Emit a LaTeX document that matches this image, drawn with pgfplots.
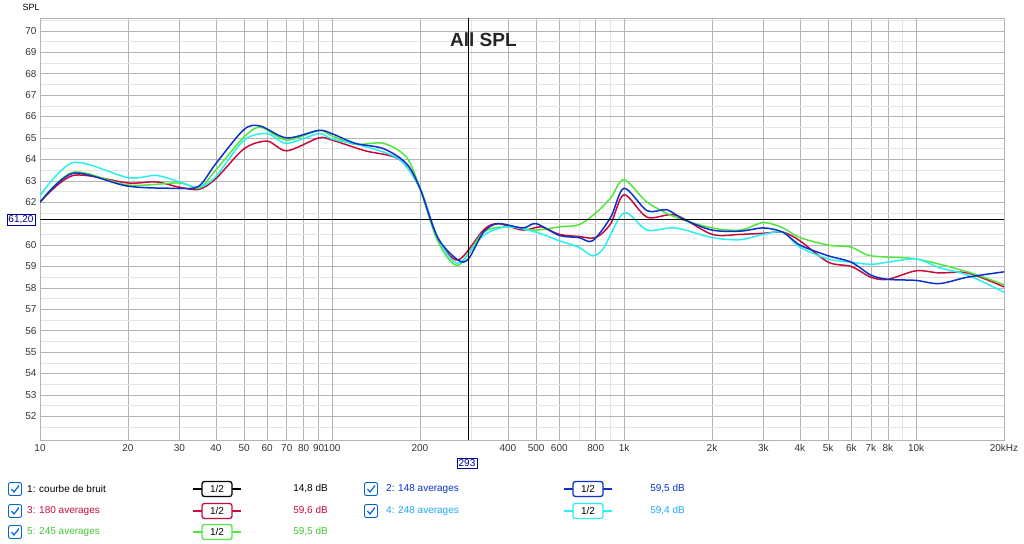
\documentclass[border=0pt]{standalone}
\usepackage{pgfplots}
\pgfplotsset{compat=1.18}
\usepackage{fontspec}
\setmainfont{Liberation Sans}
\definecolor{cblue}{RGB}{10,50,200}
\definecolor{cred}{RGB}{200,10,60}
\definecolor{cgreen}{RGB}{80,230,60}
\definecolor{ccyan}{RGB}{40,240,240}
\definecolor{lgrid}{RGB}{228,228,228}
\definecolor{mgrid}{RGB}{180,180,180}
\definecolor{chk}{RGB}{0,100,210}
\newcommand{\chk}[2]{\draw[chk,line width=0.9pt,rounded corners=2pt] (#1-6.5pt,#2-6.5pt) rectangle (#1+6.5pt,#2+6.5pt);
\draw[chk,line width=1.2pt] (#1-3.5pt,#2) -- (#1-1pt,#2-3pt) -- (#1+4pt,#2+3.5pt);}
\newcommand{\samp}[4]{\draw[#3,line width=#4] (#1-24pt,#2) -- (#1+24pt,#2);
\node[draw=#3,fill=white,line width=1.3pt,rounded corners=2.5pt,minimum width=30pt,minimum height=15pt,inner sep=0pt] at (#1,#2) {\fontsize{10}{11}\selectfont 1/2};}
\begin{document}
\begin{tikzpicture}[x=1pt,y=1pt]
\path (0,0) rectangle (1024,-543);
\begin{axis}[at={(40pt,-440pt)},anchor=south west,scale only axis,width=964pt,height=422pt,
 xmode=log,xmin=10,xmax=20000,ymin=50.9,ymax=70.6,
 axis line style={mgrid},
 xtick={10,20,30,40,50,60,70,80,90,100,200,400,500,600,800,1000,2000,3000,4000,5000,6000,7000,8000,10000,20000},
 xticklabels={10,20,30,40,50,60,70,80,90,100,200,400,500,600,800,1k,2k,3k,4k,5k,6k,7k,8k,10k,20kHz},
 minor xtick={300,700,900,9000},
 ytick={52,53,54,55,56,57,58,59,60,62,63,64,65,66,67,68,69,70},
 minor ytick={51.5,52.5,...,70.5,61},
 grid=both,
 major grid style={mgrid,line width=0.6pt},
 minor grid style={lgrid,line width=0.5pt},
 extra x ticks={10,100,1000,10000},extra x tick labels={},
 extra x tick style={grid style={gray!90!black,line width=0.8pt}},
 tick style={draw=none},
 ticklabel style={font=\fontsize{10}{11}\selectfont,text=black!80},
 xticklabel style={yshift=-1pt},
 /pgf/number format/assume math mode=true,
 log ticks with fixed point,
 clip=true,
 every axis plot/.style={smooth,line width=1.5pt,no marks,tension=0.5}]
\addplot[cred] coordinates {(10,62.0)(13,63.25)(20,62.9)(25,62.95)(30,62.7)(35,62.6)(40,63.1)(50,64.5)(60,64.85)(70,64.4)(90,65.0)(100,64.9)(130,64.4)(170,64.0)(200,62.65)(230,60.35)(270,59.3)(330,60.7)(370,61.0)(450,60.7)(520,60.85)(600,60.5)(700,60.4)(800,60.35)(900,61.0)(1000,62.35)(1200,61.3)(1500,61.4)(2000,60.5)(2500,60.5)(3000,60.55)(3500,60.6)(4000,60.2)(5000,59.2)(6000,59.0)(7000,58.5)(8000,58.4)(10000,58.8)(12000,58.7)(15000,58.7)(20000,58.05)};
\addplot[cgreen] coordinates {(10,62.0)(13,63.4)(20,62.8)(30,62.9)(35,62.65)(40,63.5)(50,65.05)(57,65.5)(70,64.9)(90,65.35)(100,65.1)(120,64.7)(150,64.75)(180,64.1)(200,62.65)(230,60.2)(270,59.05)(330,60.6)(400,60.85)(500,60.7)(600,60.85)(700,60.95)(800,61.5)(900,62.2)(1000,63.05)(1200,62.0)(1500,61.3)(2000,60.8)(2500,60.7)(3000,61.05)(3500,60.8)(4000,60.35)(5000,60.0)(6000,59.9)(7000,59.5)(10000,59.35)(15000,58.75)(20000,58.15)};
\addplot[ccyan] coordinates {(10,62.3)(13,63.85)(20,63.15)(25,63.25)(30,62.95)(35,62.7)(40,63.2)(50,64.9)(60,65.2)(70,64.75)(90,65.2)(100,64.95)(130,64.6)(170,64.0)(200,62.65)(230,60.35)(270,59.15)(330,60.45)(400,60.85)(500,60.6)(600,60.2)(700,59.9)(780,59.5)(850,59.85)(1000,61.5)(1200,60.7)(1500,60.8)(2000,60.35)(2500,60.25)(3000,60.5)(3500,60.6)(4000,59.9)(5000,59.35)(6000,59.2)(7000,59.1)(8000,59.2)(10000,59.35)(12000,58.95)(15000,58.6)(20000,57.8)};
\addplot[cblue] coordinates {(10,62.0)(13,63.35)(20,62.75)(30,62.65)(35,62.75)(40,63.8)(50,65.4)(57,65.55)(70,65.0)(90,65.35)(100,65.2)(120,64.75)(150,64.5)(180,63.8)(200,62.65)(230,60.35)(270,59.3)(293,59.35)(330,60.6)(370,61.0)(450,60.8)(500,61.0)(600,60.45)(700,60.35)(780,60.2)(900,61.3)(1000,62.65)(1200,61.6)(1400,61.65)(1600,61.2)(2000,60.7)(2500,60.65)(3000,60.8)(3500,60.6)(4000,60.0)(5000,59.5)(6000,59.2)(7000,58.6)(8000,58.4)(10000,58.35)(12000,58.2)(15000,58.5)(20000,58.75)};
\draw[black,line width=0.8pt] (axis cs:293,50.9) -- (axis cs:293,70.6);
\draw[black,line width=0.8pt] (axis cs:10,61.2) -- (axis cs:20000,61.2);
\node[font=\fontsize{19}{21}\selectfont\bfseries,text=black!85] at (axis cs:330,69.6) {All SPL};
\end{axis}
\node[font=\fontsize{9}{10}\selectfont,anchor=west] at (19,-7) {SPL};
\node[draw=blue!60!black,fill=white,font=\fontsize{10}{11}\selectfont,text=blue!50!black,inner sep=1.5pt] at (21,-220) {61,20};
\node[draw=blue!60!black,fill=white,font=\fontsize{10}{11}\selectfont,text=blue!50!black,inner sep=1.5pt] at (467,-463) {293};
\begin{scope}[every node/.style={font=\fontsize{10}{11}\selectfont,inner sep=0pt}]
\chk{15}{-489}\chk{15}{-511}\chk{15}{-532}\chk{371}{-489}\chk{371}{-511}
\node[anchor=west] at (27,-489) {1: courbe de bruit};
\node[anchor=west,text=cred] at (27,-511) {3: 180 averages};
\node[anchor=west,text=cgreen!85!black] at (27,-532) {5: 245 averages};
\node[anchor=west,text=cblue] at (386,-489) {2: 148 averages};
\node[anchor=west,text=ccyan!70!blue] at (386,-511) {4: 248 averages};
\samp{217}{-489}{black}{2.5pt}\samp{217}{-511}{cred}{1.3pt}\samp{217}{-532}{cgreen}{1.3pt}
\samp{588}{-489}{cblue}{1.3pt}\samp{588}{-511}{ccyan}{1.3pt}
\node[anchor=east] at (328,-489) {14,8 dB};
\node[anchor=east,text=cred] at (328,-511) {59,6 dB};
\node[anchor=east,text=cgreen!85!black] at (328,-532) {59,5 dB};
\node[anchor=east,text=cblue] at (685,-489) {59,5 dB};
\node[anchor=east,text=ccyan!70!blue] at (685,-511) {59,4 dB};
\end{scope}
\end{tikzpicture}
\end{document}
